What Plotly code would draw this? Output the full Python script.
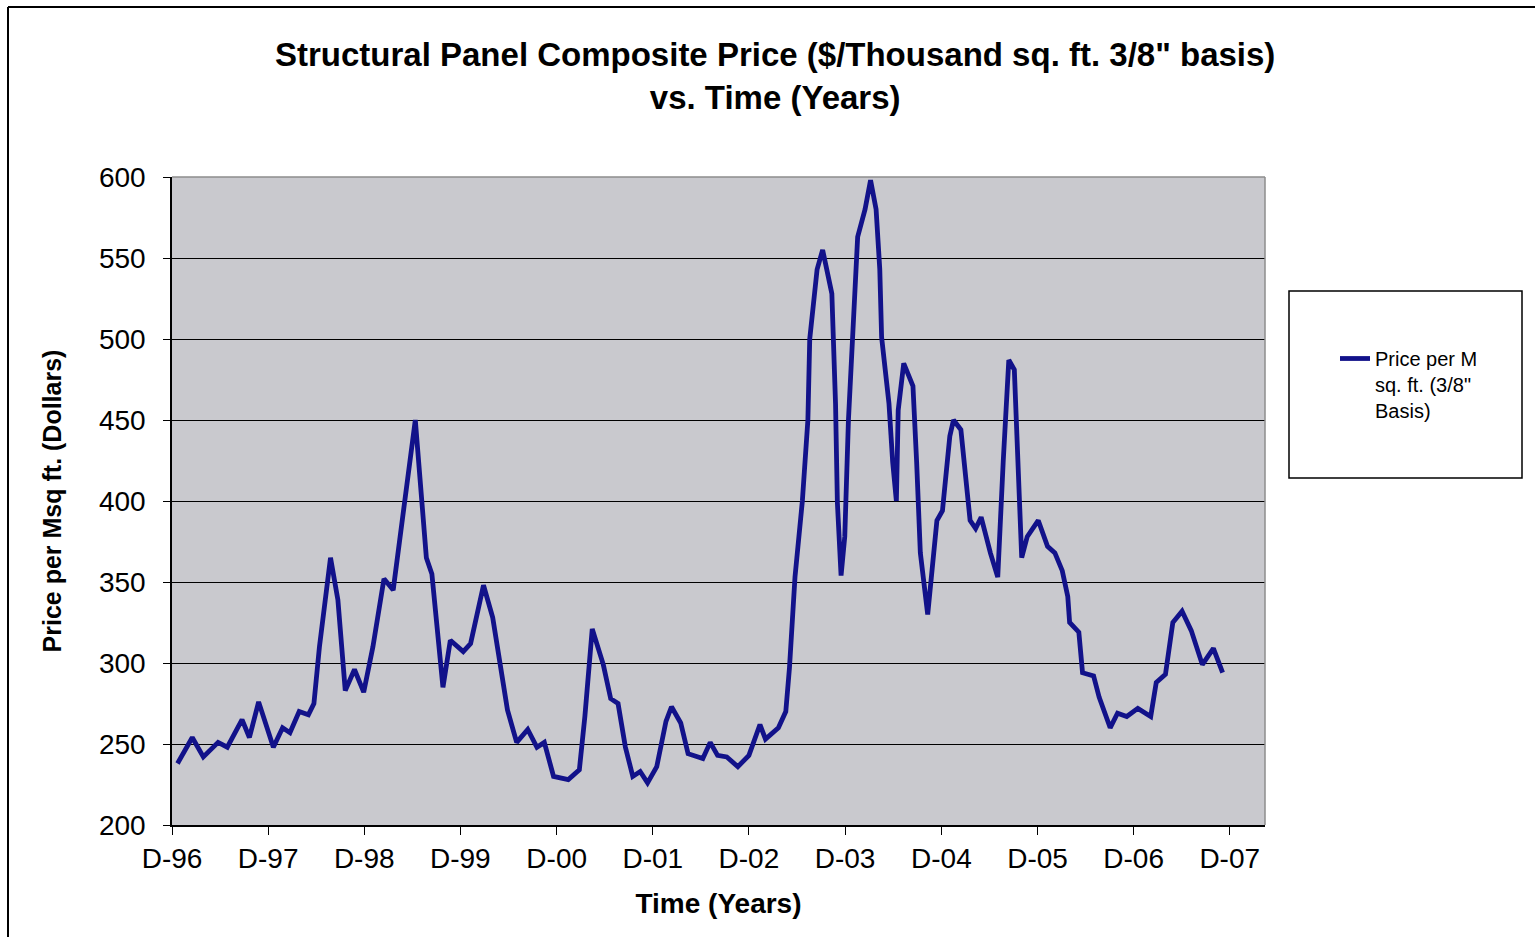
import pandas as pd
import plotly.graph_objects as go

# Weekly observations: weeks elapsed since 1 Dec 1996, and composite price ($ per M sq. ft.)
week = [3, 11, 17, 25, 30, 38, 42, 47, 55, 60, 64, 69, 74, 77, 80, 86, 90, 94, 99, 104,
        109, 115, 120, 132, 138, 141, 147, 151, 158, 162, 169, 174, 182, 187, 193, 198, 202, 207, 215, 221,
        224, 228, 234, 238, 242, 246, 250, 254, 258, 263, 268, 271, 276, 280, 288, 292, 296, 301, 307, 313,
        319, 322, 329, 333, 335, 338, 342, 345, 346, 350, 353, 358, 360, 361, 363, 365, 367, 369, 372, 376,
        379, 382, 384, 385, 389, 391, 393, 394, 397, 402, 403, 404, 406, 410, 415, 418, 422, 424, 428, 430,
        433, 436, 439, 444, 448, 451, 454, 457, 459, 461, 464, 470, 475, 479, 483, 486, 487, 492, 494, 500,
        503, 509, 513, 518, 524, 531, 534, 539, 543, 548, 553, 559, 565, 570]
price = [238, 254, 242, 251, 248, 265, 254, 276, 248, 260, 257, 270, 268, 275, 310, 365, 339, 283, 296, 282,
         310, 352, 345, 450, 365, 355, 285, 314, 307, 312, 348, 328, 271, 251, 259, 248, 251, 230, 228, 234,
         267, 321, 299, 278, 275, 248, 230, 233, 226, 236, 264, 273, 263, 244, 241, 251, 243, 242, 236, 243,
         262, 253, 260, 270, 297, 353, 400, 450, 500, 543, 555, 528, 460, 399, 354, 378, 450, 501, 563, 580,
         598, 580, 543, 501, 460, 424, 400, 456, 485, 471, 450, 424, 368, 330, 388, 394, 440, 450, 444, 419,
         388, 383, 390, 368, 353, 425, 487, 481, 430, 365, 378, 388, 372, 368, 357, 341, 325, 319, 294, 292,
         279, 260, 269, 267, 272, 267, 288, 293, 325, 332, 320, 299, 309, 294]

tick_years = list(range(1996, 2008))
tick_labels = ["D-96", "D-97", "D-98", "D-99", "D-00", "D-01",
               "D-02", "D-03", "D-04", "D-05", "D-06", "D-07"]
y_ticks = [200, 250, 300, 350, 400, 450, 500, 550, 600]

start = pd.Timestamp("1996-12-01")
dates = start + pd.to_timedelta([w * 7 for w in week], unit="D")
tick_dates = [pd.Timestamp(f"{y}-12-01") for y in tick_years]

FONT = "Liberation Sans, Arial, sans-serif"
W, H = 1535, 937
L, R, T, B = 172, 270, 177, 112
pw, ph = W - L - R, H - T - B


def px(x):
    return (x - L) / pw


def py(y):
    return (H - B - y) / ph


fig = go.Figure()
fig.add_trace(go.Scatter(
    x=dates, y=price, mode="lines",
    name="Price per M<br>sq. ft. (3/8\"<br>Basis)",
    line=dict(color="#12128a", width=4.8),
))

fig.update_layout(
    width=W, height=H,
    margin=dict(l=L, r=R, t=T, b=B),
    paper_bgcolor="white",
    plot_bgcolor="#c9c9ce",
    font=dict(family=FONT, color="black"),
    title=dict(
        text="<b>Structural Panel Composite Price ($/Thousand sq. ft. 3/8\" basis)<br>vs. Time (Years)</b>",
        x=0.505, xanchor="center", y=1 - 66 / H, yanchor="top",
        font=dict(size=33, family=FONT),
    ),
    xaxis=dict(
        range=[start, pd.Timestamp("2008-04-13")],
        tickvals=tick_dates, ticktext=tick_labels,
        ticks="outside", ticklen=8, tickcolor="black", tickwidth=1,
        showgrid=False, showline=True, linecolor="black", linewidth=1.5,
        tickfont=dict(size=28), zeroline=False,
        title=dict(text="<b>Time (Years)</b>", font=dict(size=28), standoff=20),
    ),
    yaxis=dict(
        range=[200, 600], tickvals=y_ticks,
        ticks="outside", ticklen=7, tickcolor="black", tickwidth=1,
        showgrid=True, gridcolor="black", gridwidth=1.3,
        showline=True, linecolor="black", linewidth=1.5,
        tickfont=dict(size=28), zeroline=False, ticklabelstandoff=12,
        title=dict(text="<b>Price per Msq ft. (Dollars)</b>", font=dict(size=25), standoff=30),
    ),
    showlegend=True,
    legend=dict(
        x=px(1335), y=py(339), xanchor="left", yanchor="top",
        bgcolor="rgba(0,0,0,0)", borderwidth=0,
        font=dict(size=20, family=FONT), valign="top",
    ),
)

# Plot-area frame (top and right edges)
fig.add_shape(type="line", xref="paper", yref="paper", x0=0, x1=1, y0=1, y1=1,
              line=dict(color="#8c8c8c", width=1.5), layer="above")
fig.add_shape(type="line", xref="paper", yref="paper", x0=1, x1=1, y0=0, y1=1,
              line=dict(color="#8c8c8c", width=1.5), layer="above")
# Legend box
fig.add_shape(type="rect", xref="paper", yref="paper",
              x0=px(1289), x1=px(1522), y0=py(478), y1=py(291),
              line=dict(color="black", width=1.5), fillcolor="white", layer="below")
# Chart frame
fig.add_shape(type="line", xref="paper", yref="paper",
              x0=px(8), x1=px(1535), y0=py(7), y1=py(7),
              line=dict(color="black", width=2))
fig.add_shape(type="line", xref="paper", yref="paper",
              x0=px(8), x1=px(8), y0=py(7), y1=py(937),
              line=dict(color="black", width=2))

fig.write_html("out.html")
